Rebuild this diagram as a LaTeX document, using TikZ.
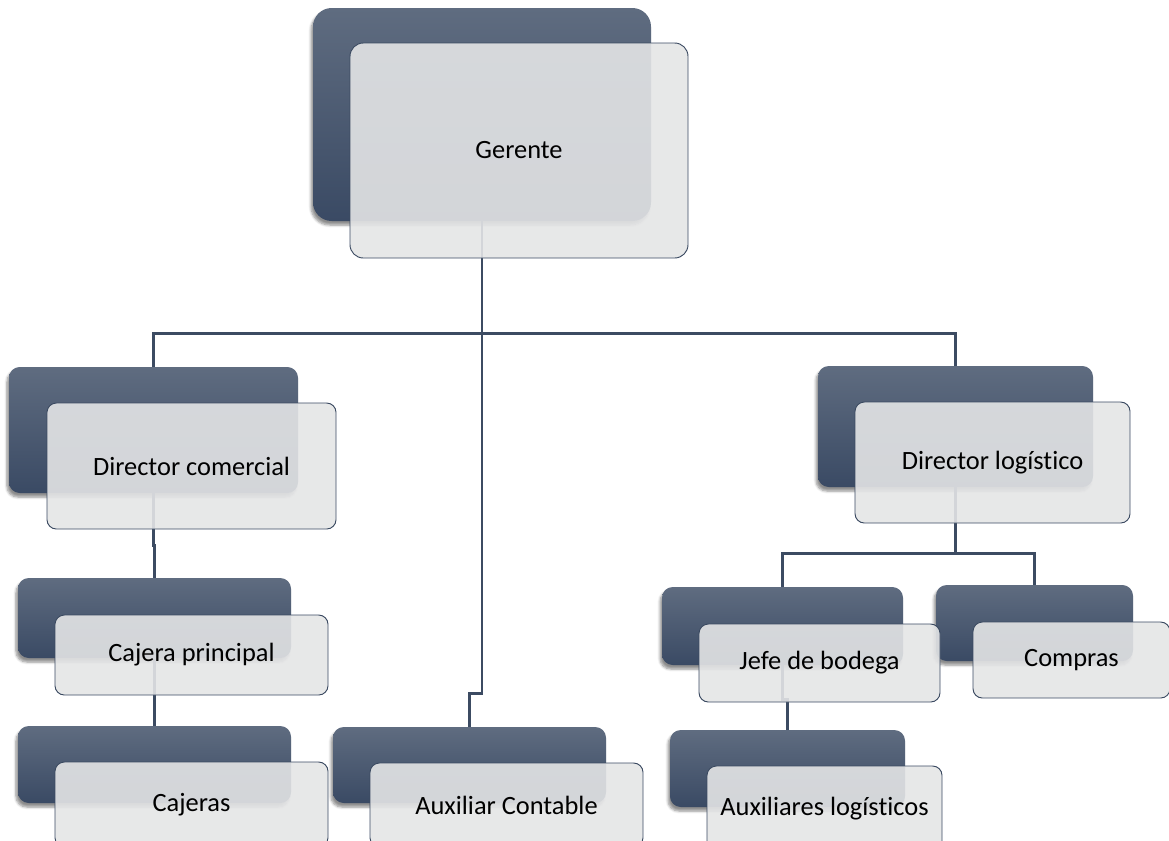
\documentclass[tikz,border=0pt]{standalone}
\usepackage{fontspec}
\setmainfont{Carlito}[Ligatures=NoCommon]
\usetikzlibrary{shadows.blur}
\definecolor{slatetop}{RGB}{95,108,128}
\definecolor{slatebot}{RGB}{58,74,100}
\definecolor{slateline}{RGB}{60,75,98}
\definecolor{panel}{RGB}{228,229,230}
\tikzset{
  backbox/.style={rounded corners=8pt, top color=slatetop, bottom color=slatebot,
    draw=none, blur shadow={shadow xshift=-1.5pt, shadow yshift=-3pt,
    shadow opacity=45, shadow blur steps=6}},
  frontbox/.style={rounded corners=7pt, draw=slateline, line width=0.7pt,
    fill=panel, fill opacity=0.9, text opacity=1, inner sep=0pt,
    font=\fontsize{19.8}{23}\selectfont},
  boxsize/.style 2 args={minimum width=#1, minimum height=#2},
  orgline/.style={draw=slateline, line width=2pt},
}
\begin{document}
\begin{tikzpicture}[x=0.75pt, y=-0.75pt]
        \useasboundingbox (0, 0) rectangle (1169, 840);
        \node[backbox, rounded corners=14pt, boxsize={253.5pt}{159.75pt}] (gerB) at (482, 114.5) {};
        \node[backbox, boxsize={216.75pt}{94.5pt}] (dcomB) at (153.5, 430) {};
        \node[backbox, boxsize={206.25pt}{90.75pt}] (dlogB) at (955.5, 426.5) {};
        \node[backbox, boxsize={204.75pt}{60pt}] (cajpB) at (154.5, 618) {};
        \node[backbox, boxsize={204.75pt}{57.75pt}] (cajB) at (154.5, 764.5) {};
        \node[backbox, boxsize={204.75pt}{57pt}] (auxcB) at (469.5, 765) {};
        \node[backbox, boxsize={180.75pt}{58.5pt}] (jefeB) at (782.5, 626) {};
        \node[backbox, boxsize={147.75pt}{57pt}] (compB) at (1034.5, 623) {};
        \node[backbox, boxsize={176.25pt}{57.75pt}] (auxlB) at (787.5, 768.5) {};
        \draw[orgline] (gerB.south) -- ++(0, 112) coordinate (hub);
        \draw[orgline] (dcomB.north) |- (hub) -| (dlogB.north);
        \draw[orgline] (hub) -- ++(0, 360) -| (auxcB.north);
        \draw[orgline] (dcomB.south) -- ++(0, 52) -| (cajpB.north);
        \draw[orgline] (cajpB.south) -- (cajB.north);
        \draw[orgline] (dlogB.south) -- ++(0, 66) coordinate (hubl);
        \draw[orgline] (jefeB.north) |- (hubl) -| (compB.north);
        \draw[orgline] (jefeB.south) -- ++(0, 34) -| (auxlB.north);
        \node[frontbox, rounded corners=10pt, boxsize={253.5pt}{161.25pt}] (ger) at ([shift={(37, 36)}]gerB.center) {Gerente};
        \node[frontbox, boxsize={216.75pt}{94.5pt}] (dcom) at ([shift={(38, 36)}]dcomB.center) {Director comercial};
        \node[frontbox, boxsize={206.25pt}{90.75pt}] (dlog) at ([shift={(37, 36)}]dlogB.center) {Director logístico};
        \node[frontbox, boxsize={204.75pt}{60pt}] (cajp) at ([shift={(37, 37)}]cajpB.center) {Cajera principal};
        \node[frontbox, boxsize={204.75pt}{63.75pt}] (caj) at ([shift={(37, 40)}]cajB.center) {Cajeras};
        \node[frontbox, boxsize={204.75pt}{63pt}] (auxc) at ([shift={(37, 40)}]auxcB.center) {Auxiliar Contable};
        \node[frontbox, boxsize={180.75pt}{58.5pt}] (jefe) at ([shift={(37, 37)}]jefeB.center) {Jefe de bodega};
        \node[frontbox, boxsize={147.75pt}{57pt}] (comp) at ([shift={(37, 37)}]compB.center) {Compras};
        \node[frontbox, boxsize={176.25pt}{63.75pt}] (auxl) at ([shift={(37, 40)}]auxlB.center) {Auxiliares logísticos};
\end{tikzpicture}
\end{document}
